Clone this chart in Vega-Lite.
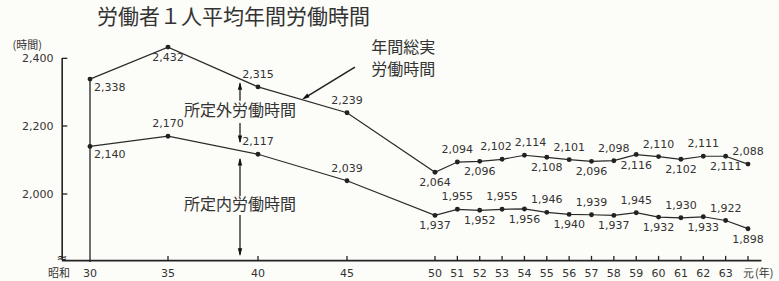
{
  "$schema": "https://vega.github.io/schema/vega-lite/v6.json",
  "width": 703,
  "height": 204,
  "autosize": {"type": "none"},
  "padding": {"left": 60, "top": 58, "right": 16, "bottom": 19},
  "background": "#fcfcf8",
  "title": {"text": "労働者１人平均年間労働時間", "anchor": "start", "frame": "group", "dx": 37, "offset": 11, "fontSize": 21, "font": "Noto Sans CJK JP", "fontWeight": "normal", "color": "#333333"},
  "config": {"view": {"stroke": null}, "font": "DejaVu Sans"},
  "datasets": {
    "hours": [
      {"year": 30, "series": "total", "hours": 2338},
      {"year": 35, "series": "total", "hours": 2432},
      {"year": 40, "series": "total", "hours": 2315},
      {"year": 45, "series": "total", "hours": 2239},
      {"year": 50, "series": "total", "hours": 2064},
      {"year": 51, "series": "total", "hours": 2094},
      {"year": 52, "series": "total", "hours": 2096},
      {"year": 53, "series": "total", "hours": 2102},
      {"year": 54, "series": "total", "hours": 2114},
      {"year": 55, "series": "total", "hours": 2108},
      {"year": 56, "series": "total", "hours": 2101},
      {"year": 57, "series": "total", "hours": 2096},
      {"year": 58, "series": "total", "hours": 2098},
      {"year": 59, "series": "total", "hours": 2116},
      {"year": 60, "series": "total", "hours": 2110},
      {"year": 61, "series": "total", "hours": 2102},
      {"year": 62, "series": "total", "hours": 2111},
      {"year": 63, "series": "total", "hours": 2111},
      {"year": 64, "series": "total", "hours": 2088},
      {"year": 30, "series": "scheduled", "hours": 2140},
      {"year": 35, "series": "scheduled", "hours": 2170},
      {"year": 40, "series": "scheduled", "hours": 2117},
      {"year": 45, "series": "scheduled", "hours": 2039},
      {"year": 50, "series": "scheduled", "hours": 1937},
      {"year": 51, "series": "scheduled", "hours": 1955},
      {"year": 52, "series": "scheduled", "hours": 1952},
      {"year": 53, "series": "scheduled", "hours": 1955},
      {"year": 54, "series": "scheduled", "hours": 1956},
      {"year": 55, "series": "scheduled", "hours": 1946},
      {"year": 56, "series": "scheduled", "hours": 1940},
      {"year": 57, "series": "scheduled", "hours": 1939},
      {"year": 58, "series": "scheduled", "hours": 1937},
      {"year": 59, "series": "scheduled", "hours": 1945},
      {"year": 60, "series": "scheduled", "hours": 1932},
      {"year": 61, "series": "scheduled", "hours": 1930},
      {"year": 62, "series": "scheduled", "hours": 1933},
      {"year": 63, "series": "scheduled", "hours": 1922},
      {"year": 64, "series": "scheduled", "hours": 1898}
    ],
    "xlabels": [
      {"year": 30, "hours": 1800, "label": "30"},
      {"year": 35, "hours": 1800, "label": "35"},
      {"year": 40, "hours": 1800, "label": "40"},
      {"year": 45, "hours": 1800, "label": "45"},
      {"year": 50, "hours": 1800, "label": "50"},
      {"year": 51, "hours": 1800, "label": "51"},
      {"year": 52, "hours": 1800, "label": "52"},
      {"year": 53, "hours": 1800, "label": "53"},
      {"year": 54, "hours": 1800, "label": "54"},
      {"year": 55, "hours": 1800, "label": "55"},
      {"year": 56, "hours": 1800, "label": "56"},
      {"year": 57, "hours": 1800, "label": "57"},
      {"year": 58, "hours": 1800, "label": "58"},
      {"year": 59, "hours": 1800, "label": "59"},
      {"year": 60, "hours": 1800, "label": "60"},
      {"year": 61, "hours": 1800, "label": "61"},
      {"year": 62, "hours": 1800, "label": "62"},
      {"year": 63, "hours": 1800, "label": "63"},
      {"year": 64, "hours": 1800, "label": "元"}
    ],
    "xticks": [
      {"year": 35, "hours": 1804, "hours2": 1818},
      {"year": 40, "hours": 1804, "hours2": 1818},
      {"year": 45, "hours": 1804, "hours2": 1818},
      {"year": 50, "hours": 1804, "hours2": 1818},
      {"year": 51, "hours": 1804, "hours2": 1818},
      {"year": 52, "hours": 1804, "hours2": 1818},
      {"year": 53, "hours": 1804, "hours2": 1818},
      {"year": 54, "hours": 1804, "hours2": 1818},
      {"year": 55, "hours": 1804, "hours2": 1818},
      {"year": 56, "hours": 1804, "hours2": 1818},
      {"year": 57, "hours": 1804, "hours2": 1818},
      {"year": 58, "hours": 1804, "hours2": 1818},
      {"year": 59, "hours": 1804, "hours2": 1818},
      {"year": 60, "hours": 1804, "hours2": 1818},
      {"year": 61, "hours": 1804, "hours2": 1818},
      {"year": 62, "hours": 1804, "hours2": 1818},
      {"year": 63, "hours": 1804, "hours2": 1818},
      {"year": 64, "hours": 1804, "hours2": 1818}
    ],
    "yticks": [
      {"year": 28.22, "year2": 28.55, "hours": 2000},
      {"year": 28.22, "year2": 28.55, "hours": 2200},
      {"year": 28.22, "year2": 28.55, "hours": 2399}
    ],
    "vrules": [
      {"year": 30, "hours": 1800, "hours2": 2338},
      {"year": 39, "hours": 2274, "hours2": 2326},
      {"year": 39, "hours": 2209, "hours2": 2153},
      {"year": 39, "hours": 1994, "hours2": 2103},
      {"year": 39, "hours": 1938, "hours2": 1821}
    ],
    "yaxisline": [{"year": 28.22, "hours": 1808, "hours2": 2400}],
    "xaxisline": [{"year": 28.2, "year2": 64.6, "hours": 1804}],
    "pointer": [{"year": 45.45, "hours": 2373, "year2": 42.6, "hours2": 2282}],
    "headsUp": [{"year": 39, "hours": 2329}, {"year": 39, "hours": 2106}],
    "headsDown": [{"year": 39, "hours": 2150}, {"year": 39, "hours": 1818}],
    "pointerHead": [{"year": 42.47, "hours": 2278}]
  },
  "layer": [
    {
      "data": {"name": "hours"},
      "mark": {"type": "line", "color": "#2a2a2a", "strokeWidth": 1.2},
      "encoding": {
        "x": {
          "field": "year", "type": "quantitative",
          "scale": {"type": "linear", "domain": [28.08, 30, 35, 40, 45, 50, 64, 64.67], "range": [0, 30, 108, 198, 287, 375, 688, 703], "zero": false, "nice": false},
          "axis": {"values": [30, 35, 40, 45, 50, 51, 52, 53, 54, 55, 56, 57, 58, 59, 60, 61, 62, 63, 64], "labels": false, "title": null, "grid": false, "domain": false, "ticks": false}
        },
        "y": {
          "field": "hours", "type": "quantitative",
          "scale": {"domain": [1800, 2400], "zero": false, "nice": false},
          "axis": {"values": [2000, 2200, 2400], "labelExpr": "format(datum.value, ',')", "grid": false, "domain": false, "ticks": false, "labelPadding": 7, "labelOverlap": false, "labelColor": "#333333", "labelFontSize": 11, "labelFont": "DejaVu Sans", "title": "(時間)", "titleAngle": 0, "titleAlign": "left", "titleBaseline": "middle", "titleX": -48, "titleY": -13, "titleFontSize": 11, "titleFontWeight": "normal", "titleFont": "Noto Sans CJK JP", "titleColor": "#333333"}
        },
        "detail": {"field": "series"}
      }
    },
    {
      "data": {"name": "hours"},
      "mark": {"type": "point", "filled": true, "size": 24, "color": "#222222", "opacity": 1},
      "encoding": {"x": {"field": "year", "type": "quantitative"}, "y": {"field": "hours", "type": "quantitative"}}
    },
    {
      "data": {"name": "hours"},
      "transform": [{"filter": "(datum.series == 'total' && indexof([40,45,51,56,58,60,62,64], datum.year) >= 0) || (datum.series == 'scheduled' && indexof([35,40,45,51,53,55,57,59,61,63], datum.year) >= 0)"}],
      "mark": {"type": "text", "dy": -12, "baseline": "middle", "align": "center", "fontSize": 11, "color": "#333333"},
      "encoding": {"x": {"field": "year", "type": "quantitative"}, "y": {"field": "hours", "type": "quantitative"}, "text": {"field": "hours", "type": "quantitative", "format": ","}}
    },
    {
      "data": {"name": "hours"},
      "transform": [{"filter": "datum.series == 'total' && datum.year == 53"}],
      "mark": {"type": "text", "dy": -12, "dx": -6, "baseline": "middle", "align": "center", "fontSize": 11, "color": "#333333"},
      "encoding": {"x": {"field": "year", "type": "quantitative"}, "y": {"field": "hours", "type": "quantitative"}, "text": {"field": "hours", "type": "quantitative", "format": ","}}
    },
    {
      "data": {"name": "hours"},
      "transform": [{"filter": "datum.series == 'total' && datum.year == 54"}],
      "mark": {"type": "text", "dy": -12, "dx": 6, "baseline": "middle", "align": "center", "fontSize": 11, "color": "#333333"},
      "encoding": {"x": {"field": "year", "type": "quantitative"}, "y": {"field": "hours", "type": "quantitative"}, "text": {"field": "hours", "type": "quantitative", "format": ","}}
    },
    {
      "data": {"name": "hours"},
      "transform": [{"filter": "(datum.series == 'total' && indexof([35,50,52,55,57,59,61,63], datum.year) >= 0) || (datum.series == 'scheduled' && indexof([50,52,54,56,58,60,62,64], datum.year) >= 0)"}],
      "mark": {"type": "text", "dy": 11, "baseline": "middle", "align": "center", "fontSize": 11, "color": "#333333"},
      "encoding": {"x": {"field": "year", "type": "quantitative"}, "y": {"field": "hours", "type": "quantitative"}, "text": {"field": "hours", "type": "quantitative", "format": ","}}
    },
    {
      "data": {"name": "hours"},
      "transform": [{"filter": "datum.year == 30"}],
      "mark": {"type": "text", "dy": 9, "dx": 4, "baseline": "middle", "align": "left", "fontSize": 11, "color": "#333333"},
      "encoding": {"x": {"field": "year", "type": "quantitative"}, "y": {"field": "hours", "type": "quantitative"}, "text": {"field": "hours", "type": "quantitative", "format": ","}}
    },
    {
      "data": {"name": "xlabels"},
      "mark": {"type": "text", "dy": 12, "baseline": "middle", "align": "center", "fontSize": 11, "color": "#333333"},
      "encoding": {"x": {"field": "year", "type": "quantitative"}, "y": {"field": "hours", "type": "quantitative"}, "text": {"field": "label", "type": "nominal"}}
    },
    {
      "data": {"name": "xticks"},
      "mark": {"type": "rule", "color": "#222222", "strokeWidth": 1.3},
      "encoding": {"x": {"field": "year", "type": "quantitative"}, "y": {"field": "hours", "type": "quantitative"}, "y2": {"field": "hours2"}}
    },
    {
      "data": {"name": "yticks"},
      "mark": {"type": "rule", "color": "#222222", "strokeWidth": 1.3},
      "encoding": {"x": {"field": "year", "type": "quantitative"}, "x2": {"field": "year2"}, "y": {"field": "hours", "type": "quantitative"}}
    },
    {
      "data": {"name": "vrules"},
      "mark": {"type": "rule", "color": "#222222", "strokeWidth": 1.3},
      "encoding": {"x": {"field": "year", "type": "quantitative"}, "y": {"field": "hours", "type": "quantitative"}, "y2": {"field": "hours2"}}
    },
    {
      "data": {"name": "yaxisline"},
      "mark": {"type": "rule", "color": "#222222", "strokeWidth": 1.6},
      "encoding": {"x": {"field": "year", "type": "quantitative"}, "y": {"field": "hours", "type": "quantitative"}, "y2": {"field": "hours2"}}
    },
    {
      "data": {"name": "xaxisline"},
      "mark": {"type": "rule", "color": "#222222", "strokeWidth": 1.8},
      "encoding": {"x": {"field": "year", "type": "quantitative"}, "x2": {"field": "year2"}, "y": {"field": "hours", "type": "quantitative"}}
    },
    {
      "data": {"name": "pointer"},
      "mark": {"type": "rule", "color": "#222222", "strokeWidth": 1.6},
      "encoding": {"x": {"field": "year", "type": "quantitative"}, "x2": {"field": "year2"}, "y": {"field": "hours", "type": "quantitative"}, "y2": {"field": "hours2"}}
    },
    {
      "data": {"name": "headsUp"},
      "mark": {"type": "point", "filled": true, "opacity": 1, "color": "#111111", "size": 64, "shape": "M0,0L-0.55,1.9L0.55,1.9Z"},
      "encoding": {"x": {"field": "year", "type": "quantitative"}, "y": {"field": "hours", "type": "quantitative"}}
    },
    {
      "data": {"name": "headsDown"},
      "mark": {"type": "point", "filled": true, "opacity": 1, "color": "#111111", "size": 64, "shape": "M0,0L-0.55,-1.9L0.55,-1.9Z"},
      "encoding": {"x": {"field": "year", "type": "quantitative"}, "y": {"field": "hours", "type": "quantitative"}}
    },
    {
      "data": {"name": "pointerHead"},
      "mark": {"type": "point", "filled": true, "opacity": 1, "color": "#111111", "size": 64, "angle": 238, "shape": "M0,0L-0.55,1.9L0.55,1.9Z"},
      "encoding": {"x": {"field": "year", "type": "quantitative"}, "y": {"field": "hours", "type": "quantitative"}}
    },
    {
      "data": {"values": [{"year": 39, "hours": 2245}]},
      "mark": {"type": "text", "font": "Noto Sans CJK JP", "fontSize": 16, "color": "#333333", "align": "center", "baseline": "middle"},
      "encoding": {"x": {"field": "year", "type": "quantitative"}, "y": {"field": "hours", "type": "quantitative"}, "text": {"value": "所定外労働時間"}}
    },
    {
      "data": {"values": [{"year": 39, "hours": 1968}]},
      "mark": {"type": "text", "font": "Noto Sans CJK JP", "fontSize": 16, "color": "#333333", "align": "center", "baseline": "middle"},
      "encoding": {"x": {"field": "year", "type": "quantitative"}, "y": {"field": "hours", "type": "quantitative"}, "text": {"value": "所定内労働時間"}}
    },
    {
      "data": {"values": [{"year": 48.2, "hours": 2452}]},
      "mark": {"type": "text", "font": "Noto Sans CJK JP", "fontSize": 16, "color": "#333333", "align": "center", "baseline": "top", "lineHeight": 22},
      "encoding": {"x": {"field": "year", "type": "quantitative"}, "y": {"field": "hours", "type": "quantitative"}, "text": {"value": ["年間総実", "労働時間"]}}
    },
    {
      "data": {"values": [{"year": 30, "hours": 1800}]},
      "mark": {"type": "text", "font": "Noto Sans CJK JP", "fontSize": 11, "color": "#333333", "align": "center", "baseline": "middle", "dy": 12, "dx": -31},
      "encoding": {"x": {"field": "year", "type": "quantitative"}, "y": {"field": "hours", "type": "quantitative"}, "text": {"value": "昭和"}}
    },
    {
      "data": {"values": [{"year": 64, "hours": 1800}]},
      "mark": {"type": "text", "font": "Noto Sans CJK JP", "fontSize": 11, "color": "#333333", "align": "left", "baseline": "middle", "dy": 12, "dx": 7},
      "encoding": {"x": {"field": "year", "type": "quantitative"}, "y": {"field": "hours", "type": "quantitative"}, "text": {"value": "(年)"}}
    },
    {
      "data": {"values": [{"year": 28.2, "hours": 1812}]},
      "mark": {"type": "text", "fontSize": 13, "color": "#222222", "align": "center", "baseline": "middle"},
      "encoding": {"x": {"field": "year", "type": "quantitative"}, "y": {"field": "hours", "type": "quantitative"}, "text": {"value": "≈"}}
    }
  ]
}
